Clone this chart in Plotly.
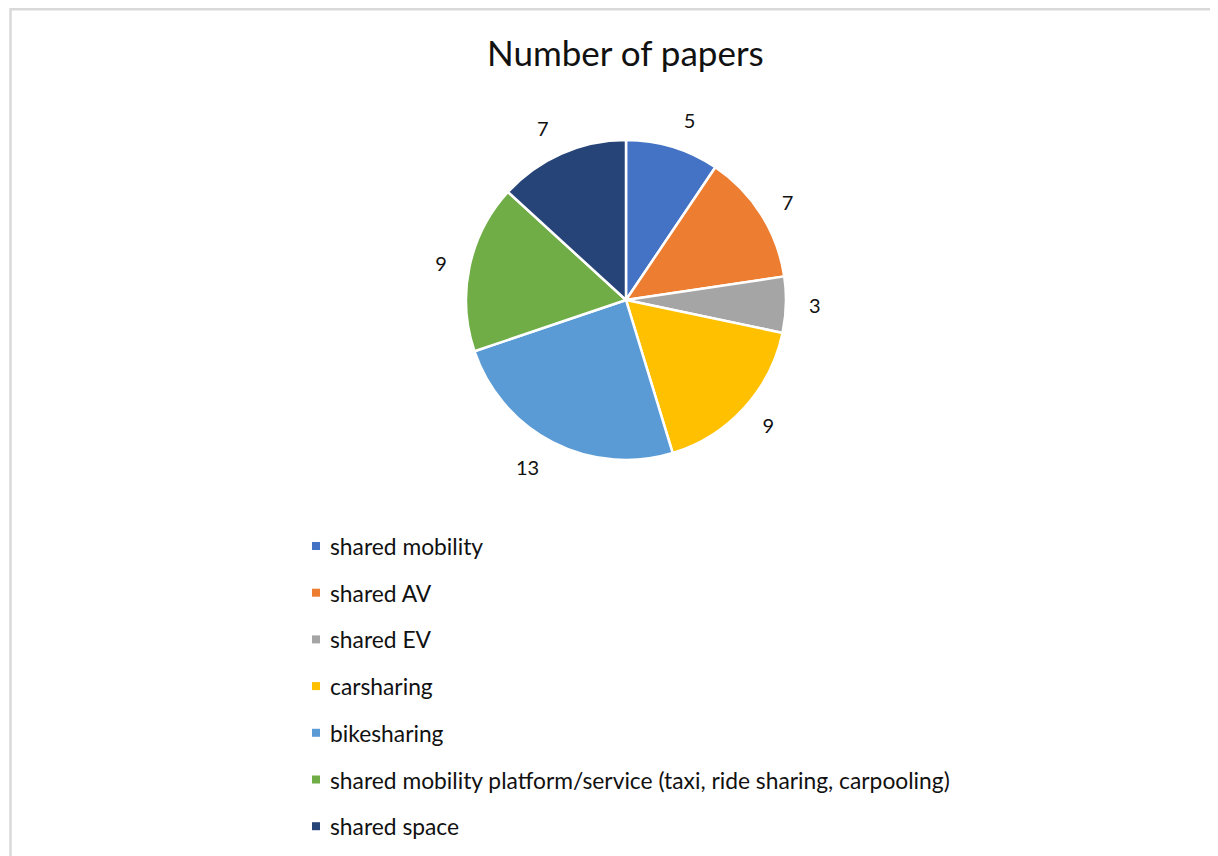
import plotly.graph_objects as go

labels = ["shared mobility", "shared AV", "shared EV", "carsharing", "bikesharing",
          "shared mobility platform/service (taxi, ride sharing, carpooling)", "shared space"]
values = [5, 7, 3, 9, 13, 9, 7]
colors = ["#4472C4", "#ED7D31", "#A5A5A5", "#FFC000", "#5B9BD5", "#70AD47", "#264478"]
title_text = "Number of papers"

W, H = 1218, 856
OFF = 8  # page body margin offset
FONT = "Lato, 'Open Sans', sans-serif"

cx, cy, r = 626 - OFF, 300 - OFF, 160
r_lab = r + 17


def dom(rad):
    return dict(x=[(cx - rad) / W, (cx + rad) / W], y=[1 - (cy + rad) / H, 1 - (cy - rad) / H])


fig = go.Figure()
# invisible, slightly larger pie carrying the outside value labels
fig.add_trace(go.Pie(
    labels=labels, values=values, sort=False, direction="clockwise", rotation=0,
    marker=dict(colors=["rgba(0,0,0,0)"] * len(values), line=dict(width=0)),
    textposition="outside", texttemplate="%{value}",
    textfont=dict(size=20, color="#111111", family=FONT),
    showlegend=False, hoverinfo="skip", domain=dom(r_lab),
))
fig.add_trace(go.Pie(
    labels=labels, values=values, sort=False, direction="clockwise", rotation=0,
    marker=dict(colors=colors, line=dict(color="white", width=2.5)),
    textposition="none",
    showlegend=False, hoverinfo="label+value", domain=dom(r),
))

annotations = [dict(text=title_text, x=(625 - OFF) / W, y=1 - (52 - OFF) / H, xref="paper", yref="paper",
                    showarrow=False, xanchor="center", yanchor="middle",
                    font=dict(size=35, color="#111111", family=FONT))]
shapes = [dict(type="rect", xref="paper", yref="paper", x0=(10.5 - OFF) / W, x1=1.05, y0=-0.05,
               y1=1 - 1.3 / H,
               line=dict(color="#D9D9D9", width=2.5), fillcolor="rgba(0,0,0,0)", layer="below")]

y0, dy = 546 - OFF, 46.7
for i, (lab, col) in enumerate(zip(labels, colors)):
    yy = y0 + i * dy
    shapes.append(dict(type="rect", xref="paper", yref="paper",
                       x0=(312 - OFF) / W, x1=(320 - OFF) / W, y0=1 - (yy + 4) / H, y1=1 - (yy - 4) / H,
                       fillcolor=col, line=dict(width=0)))
    annotations.append(dict(text=lab, x=(328 - OFF) / W, y=1 - yy / H, xref="paper", yref="paper",
                            showarrow=False, xanchor="left", yanchor="middle",
                            font=dict(size=22.8, color="#111111", family=FONT)))

fig.update_layout(
    width=W, height=H, margin=dict(l=0, r=0, t=0, b=0),
    paper_bgcolor="white", plot_bgcolor="white",
    annotations=annotations, shapes=shapes,
)
fig.write_html("out.html")
